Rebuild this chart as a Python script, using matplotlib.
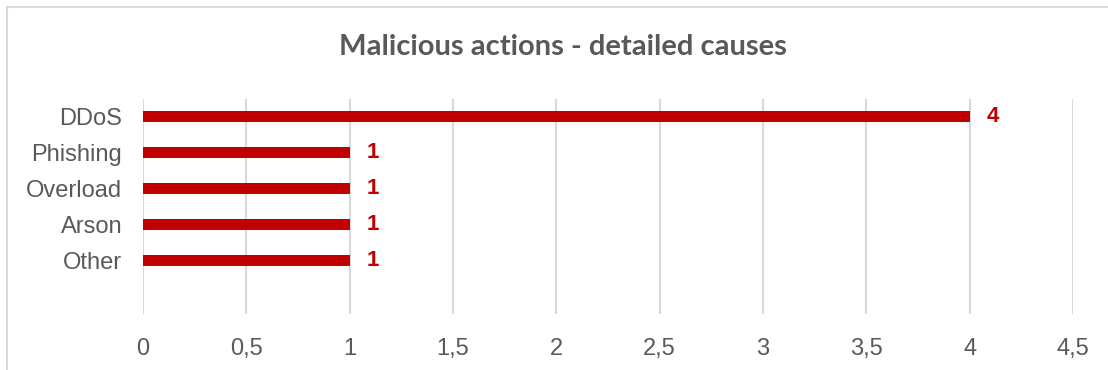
import matplotlib.pyplot as plt
from matplotlib.patches import Rectangle
from matplotlib.ticker import FuncFormatter

causes = ['DDoS', 'Phishing', 'Overload', 'Arson', 'Other']
counts = [4, 1, 1, 1, 1]
ticks = [0, 0.5, 1, 1.5, 2, 2.5, 3, 3.5, 4, 4.5]

bar_red = '#C00000'
text_grey = '#595959'
grid_grey = '#D9D9D9'

plt.rcParams['font.family'] = ['Liberation Sans', 'DejaVu Sans']

W, H = 1108, 370
fig = plt.figure(figsize=(W / 100, H / 100), dpi=100)

# outer chart frame (runs off the right and bottom edge)
fig.patches.append(Rectangle((7 / W, -0.1), 1.2, 1 - 7 / H + 0.1,
                             transform=fig.transFigure, fill=False,
                             edgecolor=grid_grey, linewidth=1.5))

ax = fig.add_axes([143 / W, 1 - 314 / H, (1073 - 143) / W, (314 - 99) / H])

pos = list(range(len(causes)))
ax.barh(pos, counts, height=0.31, color=bar_red, zorder=3)
for y, v in zip(pos, counts):
    ax.annotate(str(v), (v, y), xytext=(12, 0), textcoords='offset points',
                va='center', ha='left', fontsize=16, fontweight='bold',
                color=bar_red)

ax.set_xlim(0, 4.5)
ax.set_ylim(5.5, -0.5)
ax.set_xticks(ticks)
ax.xaxis.set_major_formatter(FuncFormatter(lambda x, p: f'{x:g}'.replace('.', ',')))
ax.set_yticks(pos)
ax.set_yticklabels(causes)
ax.grid(axis='x', color=grid_grey, linewidth=1.5, zorder=0)
ax.tick_params(length=0, labelsize=17, labelcolor=text_grey)
ax.tick_params(axis='x', pad=17)
ax.tick_params(axis='y', pad=15)
for s in ax.spines.values():
    s.set_visible(False)

fig.text(563 / W, 1 - 47 / H, 'Malicious actions - detailed causes',
         ha='center', va='center', fontsize=21, fontweight='bold',
         color=text_grey, family='Lato')

fig.savefig('out.png', dpi=100)
